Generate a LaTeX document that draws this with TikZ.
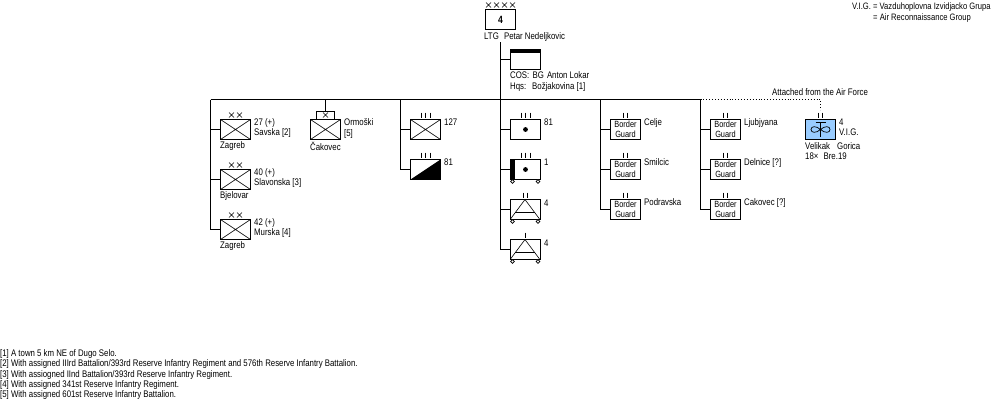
\documentclass[tikz,border=0pt]{standalone}
\usepackage{fontspec}
\setmainfont[FakeStretch=0.82]{Liberation Sans}
\tikzset{
  x=1pt,y=-1pt,
  line cap=butt,
  link/.style={line width=0.9pt},
  unit/.style={draw,line width=0.9pt,minimum width=30pt,minimum height=20pt,inner sep=0pt,outer sep=0pt,fill=white},
  small/.style={draw,line width=0.9pt,minimum width=18pt,minimum height=8pt,inner sep=0pt,outer sep=0pt,fill=white},
  lbl/.style={anchor=base west,inner sep=0pt,font=\fontsize{9.55pt}{10pt}\selectfont},
  guard/.style={anchor=center,align=center,inner sep=0pt,font=\fontsize{9pt}{9.6pt}\selectfont},
  thin mark/.style={line width=0.6pt},
  infantry/.pic={\draw[thin mark] (-15,-10) -- (15,10) (-15,10) -- (15,-10);},
}
% echelon marks above a box: vertical ticks or small crosses
\newcommand{\ticks}[3]{% x, y, count
  \foreach \k in {1,...,#3}{
    \draw[line width=0.7pt] ({#1+(\k-(#3+1)/2)*4.5},{#2-2.5}) -- ++(0,5);
  }}
\newcommand{\crosses}[3]{% x, y, count
  \foreach \k in {1,...,#3}{
    \draw[line width=0.5pt] ({#1+(\k-(#3+1)/2)*8-2.5},{#2-2.5}) -- ++(5,5)
      ({#1+(\k-(#3+1)/2)*8-2.5},{#2+2.5}) -- ++(5,-5);
  }}
\newcommand{\wheels}[1]{% pair of wheels under the box centred at y = #1
  \draw[line width=0.7pt,fill=white] (512.5,#1+12) circle (1.9);
  \draw[line width=0.7pt,fill=white] (538,#1+12) circle (1.9);
}
\newcommand{\armoured}[1]{% triangle with crossbar
  \draw[thin mark] (510.5,#1+9.5) -- (525,#1-10) -- (539.5,#1+9.5) (515,#1+3) -- (535,#1+3);
}
\begin{document}
\begin{tikzpicture}
\useasboundingbox (0,0) rectangle (1000,400);

% Army headquarters and staff
\node[unit] (army) at (500.5,19.5) {\fontsize{10.5pt}{10pt}\selectfont\bfseries 4};
\crosses{500.5}{5}{4}
\node[lbl] (armyname) at (484,39) {LTG\hspace{3pt} Petar Nedeljkovic};
\coordinate (armyfoot) at (500.5,42);
\coordinate (bus) at (500.5,99.5);
\coordinate (hqfoot) at (500.5,249.5);
\node[unit] (staff) at (525.5,59.5) {};
\fill (510.5,49.5) rectangle (540.5,53);
\node[lbl] (cos) at (510,78.5) {COS:\hspace{1pt} BG\hspace{1pt} Anton Lokar};
\node[lbl] (hqs) at (510,89) {Hqs:\hspace{3pt} Božjakovina [1]};

% Main horizontal and the dropping trunks
\coordinate (busW) at (210.5,99.5);
\coordinate (busE) at (700.5,99.5);
\coordinate (t1) at (210.5,229.5);
\coordinate (t3) at (400.5,169.5);
\coordinate (t6) at (600.5,209.5);
\coordinate (t7) at (700.5,209.5);
\draw[link] (busW) -- (busE);
\draw[link] (armyfoot) -- (hqfoot);
\draw[link] (busW) -- (t1);
\draw[link] (400.5,99.5) -- (t3);
\draw[link] (600.5,99.5) -- (t6);
\draw[link] (busE) -- (t7);
\draw[link] (500.5,59.5) -- (staff.west);

% Divisions
\foreach \n/\y/\a/\b/\c in {d1/129.5/27 (+)/Savska [2]/Zagreb,d2/179.5/40 (+)/Slavonska [3]/Bjelovar,d3/229.5/42 (+)/Murska [4]/Zagreb}{
  \node[unit] (\n) at (235.5,\y) {};
  \pic at (235.5,\y) {infantry};
  \crosses{235.5}{\y-14.5}{2}
  \node[lbl] (\n a) at (254,\y-4) {\a};
  \node[lbl] (\n b) at (254,\y+5.5) {\b};
  \node[lbl] (\n c) at (220,\y+19) {\c};
  \draw[link] (210.5,\y) -- (\n.west);
}

% Ormoški brigade
\node[small] (ormtop) at (325.5,115) {};
\crosses{325.5}{115}{1}
\node[unit] (orm) at (325.5,129.5) {};
\pic at (325.5,129.5) {infantry};
\coordinate (ormbus) at (325.5,99.5);
\draw[link] (ormbus) -- (ormtop.north);
\node[lbl] (orma) at (344,125.5) {Ormoški};
\node[lbl] (ormb) at (344,136.5) {[5]};
\node[lbl] (ormc) at (310,150) {Čakovec};

% Regiments
\node[unit] (r127) at (425.5,129.5) {};
\pic at (425.5,129.5) {infantry};
\ticks{425.5}{115}{3}
\node[lbl] (r127l) at (444,125.5) {127};
\draw[link] (400.5,129.5) -- (r127.west);
\node[unit] (r81) at (425.5,169.5) {};
\fill (410.5,179.5) -- (440.5,159.5) -- (440.5,179.5) -- cycle;
\ticks{425.5}{155}{3}
\node[lbl] (r81l) at (444,165.5) {81};
\draw[link] (400.5,169.5) -- (r81.west);

% Units directly under the army
\node[unit] (a81) at (525.5,129.5) {};
\fill (525.5,129.5) circle (2.4);
\ticks{525.5}{115}{3}
\node[lbl] (a81l) at (544,125.5) {81};
\draw[link] (500.5,129.5) -- (a81.west);

\node[unit] (a1) at (525.5,169.5) {};
\fill (510.5,159.5) rectangle (514.5,179.5);
\fill (525.5,169.5) circle (2.4);
\wheels{169.5}
\ticks{525.5}{155}{3}
\node[lbl] (a1l) at (544,165.5) {1};
\draw[link] (500.5,169.5) -- (a1.west);

\node[unit] (a4b) at (525.5,209.5) {};
\armoured{209.5}
\wheels{209.5}
\ticks{525.5}{195}{2}
\node[lbl] (a4bl) at (544,206) {4};
\draw[link] (500.5,209.5) -- (a4b.west);

\node[unit] (a4c) at (525.5,249.5) {};
\armoured{249.5}
\wheels{249.5}
\ticks{525.5}{235}{1}
\node[lbl] (a4cl) at (544,246) {4};
\draw[link] (500.5,249.5) -- (a4c.west);

% Border guard battalions
\foreach \n/\x/\y/\t in {g1/625.5/129.5/Celje,g2/625.5/169.5/Smilcic,g3/625.5/209.5/Podravska,g4/725.5/129.5/Ljubjyana,g5/725.5/169.5/Delnice [?],g6/725.5/209.5/Cakovec [?]}{
  \node[unit] (\n) at (\x,\y) {};
  \node[guard] (\n t) at (\x,\y) {Border\\Guard};
  \ticks{\x}{\y-14.5}{2}
  \node[lbl] (\n l) at (\x+18.5,\y-4) {\t};
  \draw[link] (\x-25,\y) -- (\n.west);
}

% Air force group, attached by a dotted line
\node[unit,fill={rgb,255:red,153;green,204;blue,255}] (vig) at (820.5,129.5) {};
\ticks{820.5}{115}{2}
\coordinate (air) at (820.5,99.5);
\draw[line width=0.9pt,dotted] (busE) -- (air) -- (820.5,110);
\node[lbl] (attached) at (772,95.5) {Attached from the Air Force};
\draw[line width=0.8pt] (815.5,122.5) -- (825.5,122.5) (820.5,122.5) -- (820.5,137);
\draw[line width=0.7pt] (820.5,129.5) .. controls (816,125.5) and (811,126) .. (811,129.5) .. controls (811,133) and (816,133.5) .. (820.5,129.5)
  .. controls (825,125.5) and (830,126) .. (830,129.5) .. controls (830,133) and (825,133.5) .. (820.5,129.5);
\node[lbl] (viga) at (839,125.5) {4};
\node[lbl] (vigb) at (839,135.5) {V.I.G.};
\node[lbl] (vigc) at (805,149.5) {Velikak\hspace{5pt} Gorica};
\node[lbl] (vigd) at (805,159.5) {18×\hspace{3pt} Bre.19};

% Abbreviation key
\node[lbl,font=\fontsize{9.3pt}{10pt}\selectfont] (key1) at (852,9.5) {V.I.G. = Vazduhoplovna Izvidjacko Grupa};
\node[lbl,font=\fontsize{9.3pt}{10pt}\selectfont] (key2) at (873,20) {= Air Reconnaissance Group};

% Notes
\node[lbl] (n1) at (0,356) {[1] A town 5 km NE of Dugo Selo.};
\node[lbl] (n2) at (0,366.5) {[2] With assigned IIIrd Battalion/393rd Reserve Infantry Regiment and 576th Reserve Infantry Battalion.};
\node[lbl] (n3) at (0,377) {[3] With assiogned IInd Battalion/393rd Reserve Infantry Regiment.};
\node[lbl] (n4) at (0,387) {[4] With assigned 341st Reserve Infantry Regiment.};
\node[lbl] (n5) at (0,397.5) {[5] With assigned 601st Reserve Infantry Battalion.};
\end{tikzpicture}
\end{document}
